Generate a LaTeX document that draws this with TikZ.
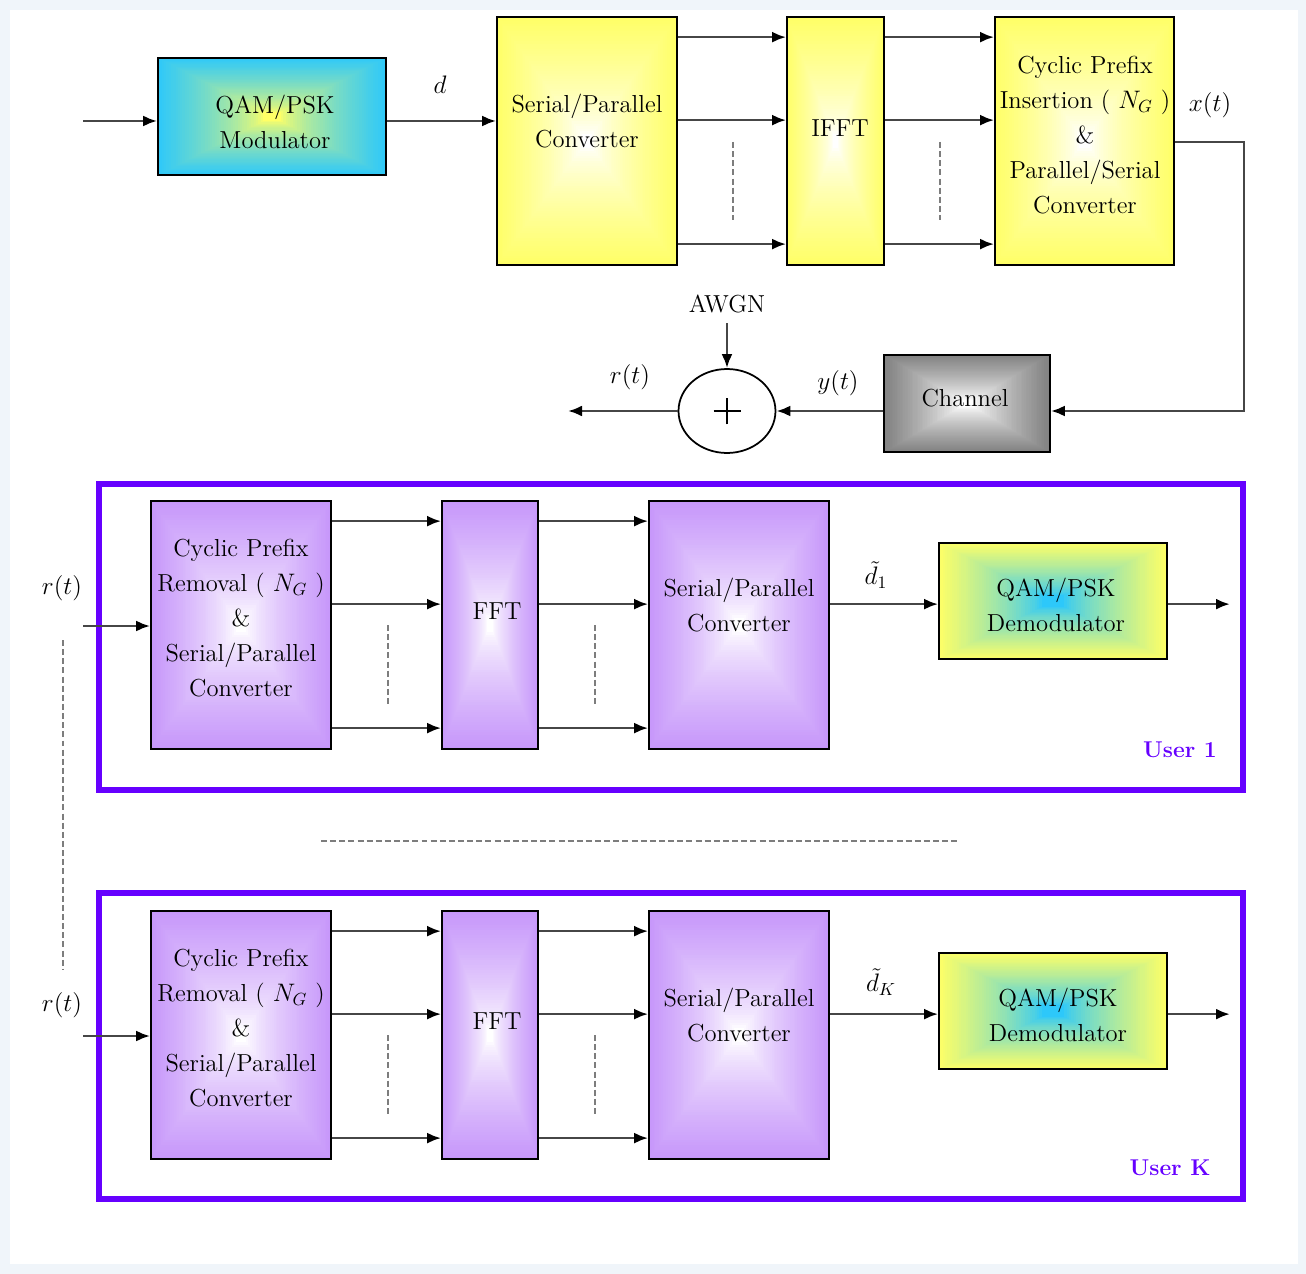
\documentclass[tikz,border=0pt]{standalone}
\usetikzlibrary{arrows.meta,shapes.geometric,calc}

\definecolor{bgblue}{RGB}{240,245,250}
\definecolor{boxyellow}{RGB}{255,255,102}
\definecolor{boxcyan}{RGB}{45,200,250}
\definecolor{boxlilac}{RGB}{198,150,250}
\definecolor{boxgrey}{RGB}{128,128,128}
\definecolor{userviolet}{RGB}{102,0,255}
\definecolor{wirecol}{RGB}{70,70,70}
\definecolor{dotcol}{RGB}{125,125,125}

\pgfdeclarelayer{pagebg}
\pgfdeclarelayer{fills}
\pgfsetlayers{pagebg,fills,main}

% rectangular centre-to-edge gradient inside a node:
% #1 node, #2 edge colour, #3 centre colour, #4 size of the plain centre, #5 exponent
\newcommand\gradbox[5]{%
  \begin{pgfonlayer}{fills}
  \foreach \gi in {0,...,49}{%
    \pgfmathsetmacro\gs{1-\gi/50}%
    \pgfmathtruncatemacro\gp{100*pow(max(0.001,min(1,(\gs-#4)/(1-#4))),#5)}%
    \fill[#2!\gp!#3] ($(#1.center)!\gs!(#1.south west)$) rectangle ($(#1.center)!\gs!(#1.north east)$);
  }%
  \end{pgfonlayer}}

\begin{document}
\begin{tikzpicture}[x=0.02cm, y=-0.02cm,
  blk/.style={draw=black, line width=1pt, inner sep=0pt},
  tall/.style={minimum height=4.96cm},
  txt/.style={font=\fontsize{14}{20}\selectfont, align=center, inner sep=0pt},
  usertxt/.style={font=\fontsize{13}{16}\selectfont\bfseries, text=userviolet, inner sep=0pt},
  frame/.style={draw=userviolet, line width=0.12cm, inner sep=0pt, minimum width=22.88cm, minimum height=6.12cm},
  wire/.style={draw=wirecol, line width=1.5pt},
  arr/.style={wire, -{Latex[length=0.28cm, width=0.22cm, color=black]}},
  dotline/.style={draw=dotcol, line width=1.3pt, dash pattern=on 3.4pt off 1.8pt}]

% page background
\begin{pgfonlayer}{pagebg}
\fill[bgblue] (0,0) rectangle (1306,1274);
\fill[white] (10,10) rectangle (1298,1264);
\end{pgfonlayer}
\useasboundingbox (0,0) rectangle (1306,1274);

% ---------------- transmitter ----------------
\node[blk, minimum width=4.56cm, minimum height=2.34cm] (mod) at (272,116.5) {};
\gradbox{mod}{boxcyan}{boxyellow}{0.08}{0.7}
\node[txt] (modt) at (275,122) {QAM/PSK\\Modulator};
\node[blk, tall, minimum width=3.6cm] (sp1) at (587,141) {};
\gradbox{sp1}{boxyellow}{white}{0.06}{0.7}
\node[txt] (sp1t) at (587,121) {Serial/Parallel\\Converter};
\node[blk, tall, minimum width=1.94cm] (ifft) at (835.5,141) {};
\gradbox{ifft}{boxyellow}{white}{0.06}{0.7}
\node[txt] (ifftt) at (840,128) {IFFT};
\node[blk, tall, minimum width=3.58cm] (cpi) at (1084.5,141) {};
\gradbox{cpi}{boxyellow}{white}{0.06}{0.7}
\node[txt] (cpit) at (1085,135) {Cyclic Prefix\\Insertion ( $N_G$ )\\\&\\Parallel/Serial\\Converter};

\coordinate (in0) at (83,121);
\draw[arr] (in0) -- (mod.west |- in0);
\draw[arr] (mod.east |- in0) -- (sp1.west |- in0);
\node[txt] (dlab) at (440,85) {$d$};

\foreach \dy in {0.42,2.08,4.56}{
  \draw[arr] ([yshift=-\dy cm]sp1.north east) -- ([yshift=-\dy cm]ifft.north west);
  \draw[arr] ([yshift=-\dy cm]ifft.north east) -- ([yshift=-\dy cm]cpi.north west);
}
\draw[dotline] (733,142) -- (733,220);
\draw[dotline] (940,142) -- (940,220);

% ---------------- channel ----------------
\node[blk, minimum width=3.32cm, minimum height=1.94cm] (chan) at (967,403.5) {};
\gradbox{chan}{boxgrey}{white}{0.08}{0.75}
\node[txt] (chant) at (965,398) {Channel};
\node[draw=black, line width=1pt, fill=white, ellipse, minimum width=1.94cm, minimum height=1.68cm, inner sep=0pt] (sum) at (727,411) {};
\draw[line width=0.8pt] ([xshift=-0.27cm]sum.center) -- ([xshift=0.27cm]sum.center)
                        ([yshift=-0.27cm]sum.center) -- ([yshift=0.27cm]sum.center);

\coordinate (xt) at (1244,142);
\draw[arr] (cpi.east |- xt) -- (xt) |- (chan.east |- sum);
\node[txt] (xtlab) at (1210,105) {$x\mathbf{(}t\mathbf{)}$};
\draw[arr] (chan.west |- sum) -- (sum.east);
\node[txt] (ytlab) at (838,383) {$y\mathbf{(}t\mathbf{)}$};
\node[txt] (awgn) at (727,304) {AWGN};
\draw[arr] ([yshift=-0.2cm]awgn.south) -- (sum.north);
\coordinate (rout) at (568,411);
\draw[arr] (sum.west) -- (rout);
\node[txt] (rtlab) at (630,377) {$r\mathbf{(}t\mathbf{)}$};

% ---------------- receiver, user 1 ----------------
\node[frame] (u1) at (671,637) {};
\node[blk, tall, minimum width=3.6cm] (cpr1) at (241,625) {};
\gradbox{cpr1}{boxlilac}{white}{0.06}{0.7}
\node[txt] (cpr1t) at (241,618) {Cyclic Prefix\\Removal ( $N_G$ )\\\&\\Serial/Parallel\\Converter};
\node[blk, tall, minimum width=1.92cm] (fft1) at (490,625) {};
\gradbox{fft1}{boxlilac}{white}{0.06}{0.7}
\node[txt] (fft1t) at (497,611) {FFT};
\node[blk, tall, minimum width=3.6cm] (sp2) at (739,625) {};
\gradbox{sp2}{boxlilac}{white}{0.06}{0.7}
\node[txt] (sp2t) at (739,605) {Serial/Parallel\\Converter};
\node[blk, minimum width=4.56cm, minimum height=2.32cm] (dem1) at (1053,601) {};
\gradbox{dem1}{boxyellow}{boxcyan}{0.1}{0.75}
\node[txt] (dem1t) at (1056,605) {QAM/PSK\\Demodulator};

\coordinate (rin1) at (83,626);
\draw[arr] (rin1) -- (cpr1.west |- rin1);
\node[txt] (rt1) at (62,588) {$r\mathbf{(}t\mathbf{)}$};
\foreach \dy in {0.42,2.08,4.56}{
  \draw[arr] ([yshift=-\dy cm]cpr1.north east) -- ([yshift=-\dy cm]fft1.north west);
  \draw[arr] ([yshift=-\dy cm]fft1.north east) -- ([yshift=-\dy cm]sp2.north west);
}
\draw[dotline] (388,625) -- (388,706);
\draw[dotline] (595,625) -- (595,706);
\path ([yshift=-2.08cm]sp2.north east) coordinate (s2o);
\draw[arr] (s2o) -- (dem1.west |- s2o);
\coordinate (o1) at (1230,605);
\draw[arr] (dem1.east |- s2o) -- (o1 |- s2o);
\node[txt] (d1lab) at (876,575) {$\tilde{d}_1$};
\node[usertxt] (u1t) at (1180,750) {User 1};

% ---------------- between the users ----------------
\draw[dotline] (63,640) -- (63,970);
\draw[dotline] (321,841) -- (960,841);

% ---------------- receiver, user K ----------------
\node[frame] (uK) at (671,1046) {};
\node[blk, tall, minimum width=3.6cm] (cprK) at (241,1035) {};
\gradbox{cprK}{boxlilac}{white}{0.06}{0.7}
\node[txt] (cprKt) at (241,1028) {Cyclic Prefix\\Removal ( $N_G$ )\\\&\\Serial/Parallel\\Converter};
\node[blk, tall, minimum width=1.92cm] (fftK) at (490,1035) {};
\gradbox{fftK}{boxlilac}{white}{0.06}{0.7}
\node[txt] (fftKt) at (497,1021) {FFT};
\node[blk, tall, minimum width=3.6cm] (spK) at (739,1035) {};
\gradbox{spK}{boxlilac}{white}{0.06}{0.7}
\node[txt] (spKt) at (739,1015) {Serial/Parallel\\Converter};
\node[blk, minimum width=4.56cm, minimum height=2.32cm] (demK) at (1053,1011) {};
\gradbox{demK}{boxyellow}{boxcyan}{0.1}{0.75}
\node[txt] (demKt) at (1058,1015) {QAM/PSK\\Demodulator};

\coordinate (rinK) at (83,1036);
\draw[arr] (rinK) -- (cprK.west |- rinK);
\node[txt] (rtK) at (62,1005) {$r\mathbf{(}t\mathbf{)}$};
\foreach \dy in {0.42,2.08,4.56}{
  \draw[arr] ([yshift=-\dy cm]cprK.north east) -- ([yshift=-\dy cm]fftK.north west);
  \draw[arr] ([yshift=-\dy cm]fftK.north east) -- ([yshift=-\dy cm]spK.north west);
}
\draw[dotline] (388,1035) -- (388,1115);
\draw[dotline] (595,1035) -- (595,1115);
\path ([yshift=-2.08cm]spK.north east) coordinate (sKo);
\draw[arr] (sKo) -- (demK.west |- sKo);
\coordinate (oK) at (1230,1015);
\draw[arr] (demK.east |- sKo) -- (oK |- sKo);
\node[txt] (dKlab) at (881,982) {$\tilde{d}_K$};
\node[usertxt] (uKt) at (1170,1168) {User K};
\end{tikzpicture}
\end{document}
